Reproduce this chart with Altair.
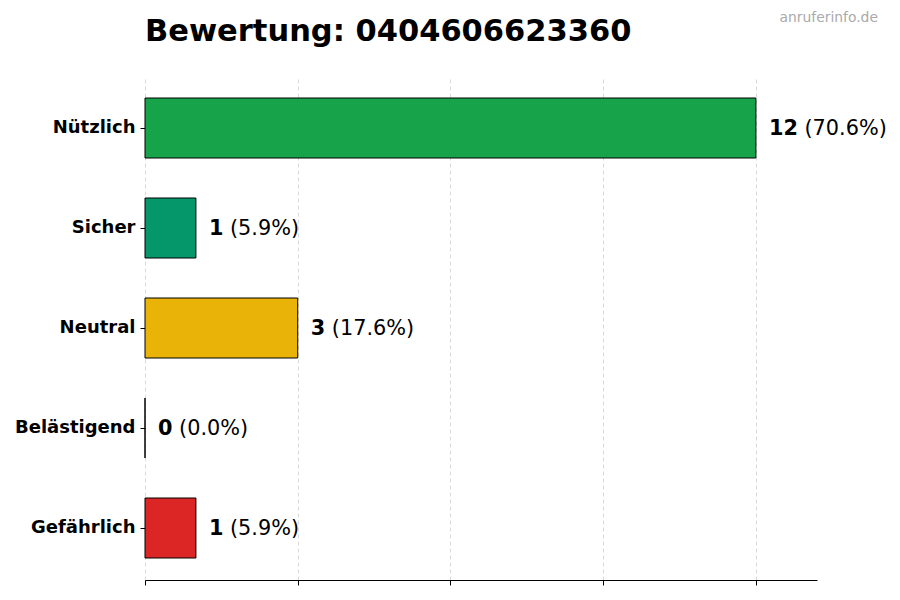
import altair as alt
import pandas as pd

categories = ["Nützlich", "Sicher", "Neutral", "Belästigend", "Gefährlich"]
counts = [12, 1, 3, 0, 1]
colors = ["#16a34a", "#059669", "#eab308", "#f97316", "#dc2626"]
x_ticks = [0, 3, 6, 9, 12]
title_text = "Bewertung: 0404606623360"
watermark = "anruferinfo.de"

total = sum(counts)
df = pd.DataFrame({
    "cat": categories,
    "count": counts,
    "color": colors,
})
df["pct"] = [f"({c / total * 100:.1f}%)" for c in counts]

FS = 20.8
FONT = "DejaVu Sans"
GAP = 13
DIGIT_W = 0.696 * FS
SPACE_W = 0.318 * FS

base = alt.Chart(df)

y_enc = alt.Y(
    "cat:N",
    sort=categories,
    title=None,
    scale=alt.Scale(paddingInner=0.4, paddingOuter=0.22),
    axis=alt.Axis(
        domain=False, ticks=True, tickSize=5, tickColor="black", tickWidth=1,
        labelFont=FONT, labelFontSize=18, labelFontWeight="bold",
        labelColor="black", labelPadding=5, grid=False,
    ),
)

x_scale = alt.Scale(domain=[0, 13.2], nice=False, zero=True)

bars = base.mark_bar(stroke="black", strokeWidth=1).encode(
    x=alt.X(
        "count:Q", scale=x_scale, title=None,
        axis=alt.Axis(
            values=x_ticks, labels=False, ticks=True, tickSize=5,
            tickColor="black", domain=True, domainColor="black", domainWidth=1,
            grid=True, gridDash=[4, 3], gridColor="#d0d0d0", gridWidth=0.8,
        ),
    ),
    y=y_enc,
    fill=alt.Fill("color:N", scale=None),
)

num_labels = base.mark_text(
    align="left", baseline="middle", dx=GAP, dy=1, font=FONT, fontSize=FS,
    fontWeight="bold", color="black",
).encode(
    x=alt.X("count:Q", scale=x_scale),
    y=alt.Y("cat:N", sort=categories),
    text=alt.Text("count:Q"),
)

pct_layers = []
for ndig in (1, 2):
    lo, hi = 10 ** (ndig - 1) if ndig > 1 else 0, 10 ** ndig
    pct_layers.append(
        base.transform_filter(
            f"datum.count >= {lo} && datum.count < {hi}"
        ).mark_text(
            align="left", baseline="middle", font=FONT, fontSize=FS,
            fontWeight="normal", color="black", dy=1,
            dx=GAP + ndig * DIGIT_W + SPACE_W,
        ).encode(
            x=alt.X("count:Q", scale=x_scale),
            y=alt.Y("cat:N", sort=categories),
            text=alt.Text("pct:N"),
        )
    )

ann = pd.DataFrame({"t": [title_text]})
title_mark = alt.Chart(ann).mark_text(
    align="left", baseline="alphabetic", font=FONT, fontSize=30.5,
    fontWeight="bold", color="black",
).encode(x=alt.value(0), y=alt.value(-35), text="t:N")

wm = alt.Chart(pd.DataFrame({"t": [watermark]})).mark_text(
    align="right", baseline="alphabetic", font=FONT, fontSize=13.9,
    color="#aaaaaa",
).encode(
    x=alt.value(733), y=alt.value(-54), text="t:N",
)

chart = alt.layer(bars, num_labels, *pct_layers, title_mark, wm).properties(
    width=672,
    height=504,
    background="white",
    autosize=alt.AutoSizeParams(type="none"),
    padding={"left": 137, "top": 68, "right": 75, "bottom": 10},
).configure_view(stroke="transparent", strokeWidth=0)

chart.save("out.html", embed_options={"renderer": "svg", "actions": False})
